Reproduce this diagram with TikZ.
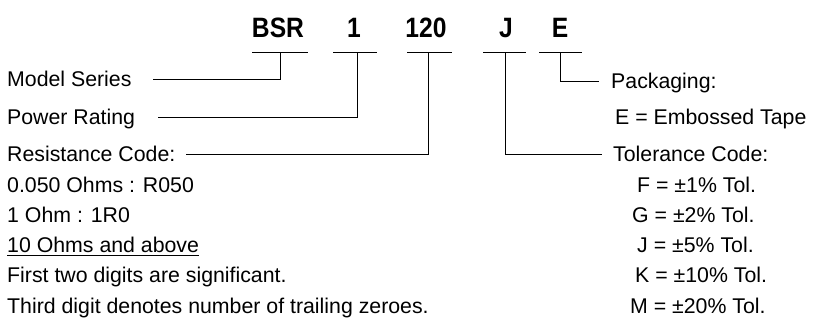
\documentclass[tikz,border=0pt]{standalone}
\usepackage{fontspec}
\setmainfont{Liberation Sans}
\newfontfamily\hdrfont[FakeStretch=0.88]{Liberation Sans}
\begin{document}
\begin{tikzpicture}[x=1pt,y=-1pt,
  hdr/.style={anchor=base,inner sep=0pt,font=\hdrfont\fontsize{28}{30}\bfseries\selectfont},
  lbl/.style={anchor=base west,inner sep=0pt,font=\fontsize{21.3}{24}\selectfont},
  conn/.style={line width=1pt,black}]
\useasboundingbox (0,0) rectangle (824,320);
% header
\node[hdr] (bsr) at (278,38) {BSR};
\node[hdr] (one) at (354,38) {1};
\node[hdr] (res) at (426,38) {120};
\node[hdr] (tol) at (506,38) {J};
\node[hdr] (pkg) at (560,38) {E};
% underlines
\draw[conn] (252,53) -- (308,53);
\draw[conn] (333,53) -- (377,53);
\draw[conn] (407,53) -- (452,53);
\draw[conn] (483,53) -- (526,53);
\draw[conn] (539,53) -- (582,53);
% left labels
\node[lbl] (ms) at (7,87) {Model Series};
\node[lbl] (pr) at (7,125) {Power Rating};
\node[lbl] (rc) at (7,162) {Resistance Code:};
\node[lbl] (r1) at (7,193) {0.050 Ohms : R050};
\node[lbl] (r2) at (7,223) {1 Ohm : 1R0};
\node[lbl] (r3) at (7,253) {10 Ohms and above};
\node[lbl] (r4) at (7,283) {First two digits are significant.};
\node[lbl] (r5) at (7,313) {Third digit denotes number of trailing zeroes.};
\draw[conn] ([yshift=-2.5pt]r3.base west) -- ([yshift=-2.5pt]r3.base east);
% right labels
\node[lbl] (pk) at (611,89) {Packaging:};
\node[lbl] (pk1) at (615,125) {E = Embossed Tape};
\node[lbl] (tc) at (613,162) {Tolerance Code:};
\node[lbl] (t1) at (637,193) {F = ±1\% Tol.};
\node[lbl] (t2) at (632,223) {G = ±2\% Tol.};
\node[lbl] (t3) at (637,253) {J = ±5\% Tol.};
\node[lbl] (t4) at (635,283) {K = ±10\% Tol.};
\node[lbl] (t5) at (630,313) {M = ±20\% Tol.};
% connectors
\coordinate (c1) at (280,53);
\coordinate (c2) at (357,53);
\coordinate (c3) at (428,53);
\coordinate (c4) at (505,53);
\coordinate (c5) at (560,53);
\coordinate (e1) at (153,80);
\coordinate (e2) at (158,118);
\coordinate (e3) at ([xshift=10pt]rc.east |- 0,155);
\coordinate (e4) at (602,155);
\coordinate (e5) at (599,82);
\draw[conn] (c1) |- (e1);
\draw[conn] (c2) |- (e2);
\draw[conn] (c3) |- (e3);
\draw[conn] (c4) |- (e4);
\draw[conn] (c5) |- (e5);
\end{tikzpicture}
\end{document}
